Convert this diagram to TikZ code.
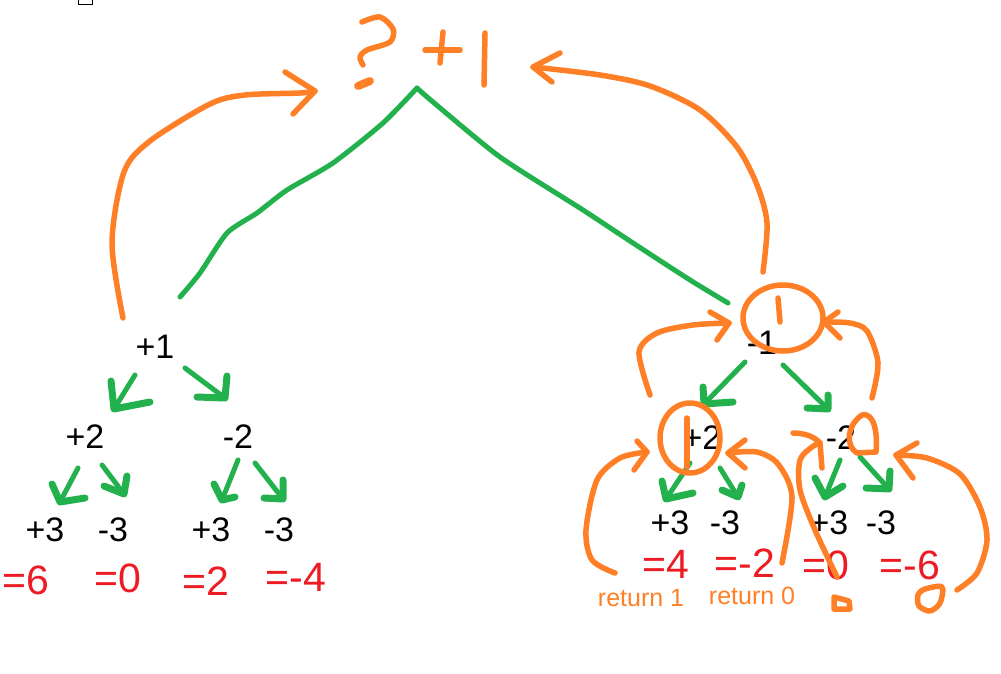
\documentclass[tikz,border=0pt]{standalone}
\usepackage{fontspec}
\setmainfont{Liberation Sans}
\definecolor{org}{RGB}{255,127,39}
\definecolor{grn}{RGB}{34,177,76}
\definecolor{rd}{RGB}{237,28,36}
\tikzset{
  ostroke/.style={draw=org, line width=5.5pt, line cap=round, line join=round},
  gstroke/.style={draw=grn, line width=5pt, line cap=round, line join=round},
  ghead/.style={draw=grn, line width=7pt, line cap=round, line join=round},
  num/.style={font=\fontsize{34}{34}\selectfont, inner sep=0pt},
  res/.style={text=rd, font=\fontsize{41}{41}\selectfont, inner sep=0pt},
  ret/.style={text=org, font=\fontsize{25}{25}\selectfont, inner sep=0pt},
}
\newcommand\garr[4]{%
  \draw[gstroke] #1 -- #2;
  \draw[ghead] #3 -- #2 -- #4;}
\newcommand\ohead[3]{\draw[ostroke] #2 -- #1 -- #3;}
\begin{document}
\begin{tikzpicture}[x=1pt,y=-1pt]
\useasboundingbox (0,0) rectangle (1001,674);
\fill[white] (0,0) rectangle (1001,674);
% small box at top
\draw[line width=0.8pt] (78,-2) rectangle (92,4.5);

% ---------- text nodes ----------
\node[num] (p1) at (155,347) {+1};
\node[num] (p2) at (85,437) {+2};
\node[num] (m2) at (238,437) {-2};
\node[num] (a3) at (45,530) {+3};
\node[num] (b3) at (113,530) {-3};
\node[num] (c3) at (211,530) {+3};
\node[num] (d3) at (279,530) {-3};
\node[res] (r1) at (26,580) {=6};
\node[res] (r2) at (118,578) {=0};
\node[res] (r3) at (206,581) {=2};
\node[res] (r4) at (296,577) {=-4};

\node[num] (q1) at (762,343) {-1};
\node[num] (q2) at (702,438) {+2};
\node[num] (n2) at (841,438) {-2};
\node[num] (e3) at (670,523) {+3};
\node[num] (f3) at (725,523) {-3};
\node[num] (g3) at (829,523) {+3};
\node[num] (h3) at (881,523) {-3};
\node[res] (s1) at (666,564) {=4};
\node[res] (s2) at (745,563) {=-2};
\node[res] (s3) at (826,565) {=0};
\node[res] (s4) at (910,565) {=-6};
\node[ret] (t1) at (641,598) {return 1};
\node[ret] (t2) at (752,596) {return 0};

% ---------- top "? + |" ----------
\draw[ostroke] plot[smooth] coordinates {(362,22) (380,17) (393,29) (390,42) (367,50) (360,57) (363,65)};
\draw[org, line width=8pt, line cap=round] (358,86) -- (370,81);
\coordinate (plusL) at (425,50); \coordinate (plusR) at (460,50);
\draw[ostroke] (plusL) -- (plusR);
\draw[ostroke] (443,32) -- (440,63);
\coordinate (barT) at (485,33); \coordinate (barB) at (484,85);
\draw[ostroke] (barT) -- (barB);
\coordinate (apex) at (417,88);

% ---------- big green lines ----------
\coordinate (gL) at (180,297);
\coordinate (gR) at (728,303);
\draw[gstroke] plot[smooth, tension=0.4] coordinates {(gL) (200,273) (227,233) (257,213) (287,190) (333,163) (383,123) (apex)};
\draw[gstroke] plot[smooth, tension=0.4] coordinates {(apex) (433,102) (500,157) (583,210) (633,243) (690,280) (gR)};

% ---------- big orange arcs ----------
\coordinate (oLs) at (123,318);
\coordinate (oLt) at (315,91);
\draw[ostroke] plot[smooth] coordinates {(oLs) (112,243) (124,172) (150,141) (210,104) (245,95) (300,93) (oLt)};
\ohead{(oLt)}{(285,72)}{(293,114)}
\coordinate (oRs) at (763,272);
\coordinate (oRt) at (533,67);
\draw[ostroke] plot[smooth] coordinates {(oRs) (767,223) (757,185) (737,147) (700,110) (650,86) (600,75) (oRt)};
\ohead{(oRt)}{(560,53)}{(552,82)}

% ---------- green arrows left tree ----------
\garr{(135,375)}{(114,409)}{(111,381)}{(150,402)}
\garr{(185,368)}{(225,398)}{(227,376)}{(197,397)}
\garr{(78,468)}{(60,502)}{(52,484)}{(85,498)}
\garr{(102,465)}{(124,494)}{(127,476)}{(104,486)}
\garr{(238,460)}{(222,500)}{(214,484)}{(235,497)}
\garr{(255,463)}{(283,499)}{(283,480)}{(264,498)}
% ---------- green arrows right tree ----------
\garr{(745,362)}{(704,404)}{(703,387)}{(733,402)}
\garr{(783,365)}{(828,409)}{(828,395)}{(807,408)}
\garr{(690,463)}{(666,499)}{(662,481)}{(693,493)}
\garr{(720,468)}{(738,497)}{(742,485)}{(722,490)}
\garr{(840,460)}{(825,497)}{(815,478)}{(843,486)}
\garr{(860,457)}{(889,489)}{(890,471)}{(866,488)}

% ---------- orange marks right tree ----------
\draw[ostroke] (783,318) ellipse [x radius=40, y radius=33];
\draw[ostroke] (778,298) -- (780,322);
\draw[ostroke] (690,438) ellipse [x radius=30, y radius=35];
\draw[ostroke] (687,418) -- (687,467);
\draw[ostroke] (876,452) -- (857,453) .. controls (845,446) and (847,425) .. (862,415) .. controls (873,412) and (878,430) .. (876,452);

% arrows into -1 circle
\coordinate (c1L) at (729,323);
\draw[ostroke] plot[smooth] coordinates {(650,395) (639,352) (657,333) (693,325) (c1L)};
\ohead{(c1L)}{(710,312)}{(717,340)}
\coordinate (c1R) at (824,322);
\draw[ostroke] plot[smooth] coordinates {(872,398) (878,363) (867,331) (850,323) (c1R)};
\ohead{(c1R)}{(838,312)}{(840,338)}

% arrows into +2 circle
\coordinate (c2L) at (647,452);
\draw[ostroke] plot[smooth] coordinates {(615,573) (592,560) (586,530) (597,480) (620,458) (c2L)};
\ohead{(c2L)}{(637,441)}{(634,470)}
\coordinate (c2R) at (728,453);
\draw[ostroke] plot[smooth] coordinates {(782,563) (792,497) (778,464) (757,452) (c2R)};
\ohead{(c2R)}{(745,440)}{(745,468)}

% arrows into -2 mark
\coordinate (c3L) at (820,443);
\draw[ostroke] plot[smooth] coordinates {(837,577) (815,530) (800,490) (800,460) (812,447) (c3L)};
\draw[ostroke] (793,433) .. controls (805,433) and (815,437) .. (c3L) -- (822,468);
\coordinate (c3R) at (896,455);
\draw[ostroke] plot[smooth] coordinates {(957,590) (977,573) (987,540) (980,507) (960,474) (927,458) (c3R)};
\ohead{(c3R)}{(917,443)}{(913,478)}

% small marks below results
\draw[ostroke] (834,597) -- (849,601) -- (850,609) -- (834,609) -- cycle;
\draw[ostroke] plot[smooth cycle] coordinates {(925,589) (942,587) (940,603) (930,611) (919,606) (918,595)};
\end{tikzpicture}
\end{document}
